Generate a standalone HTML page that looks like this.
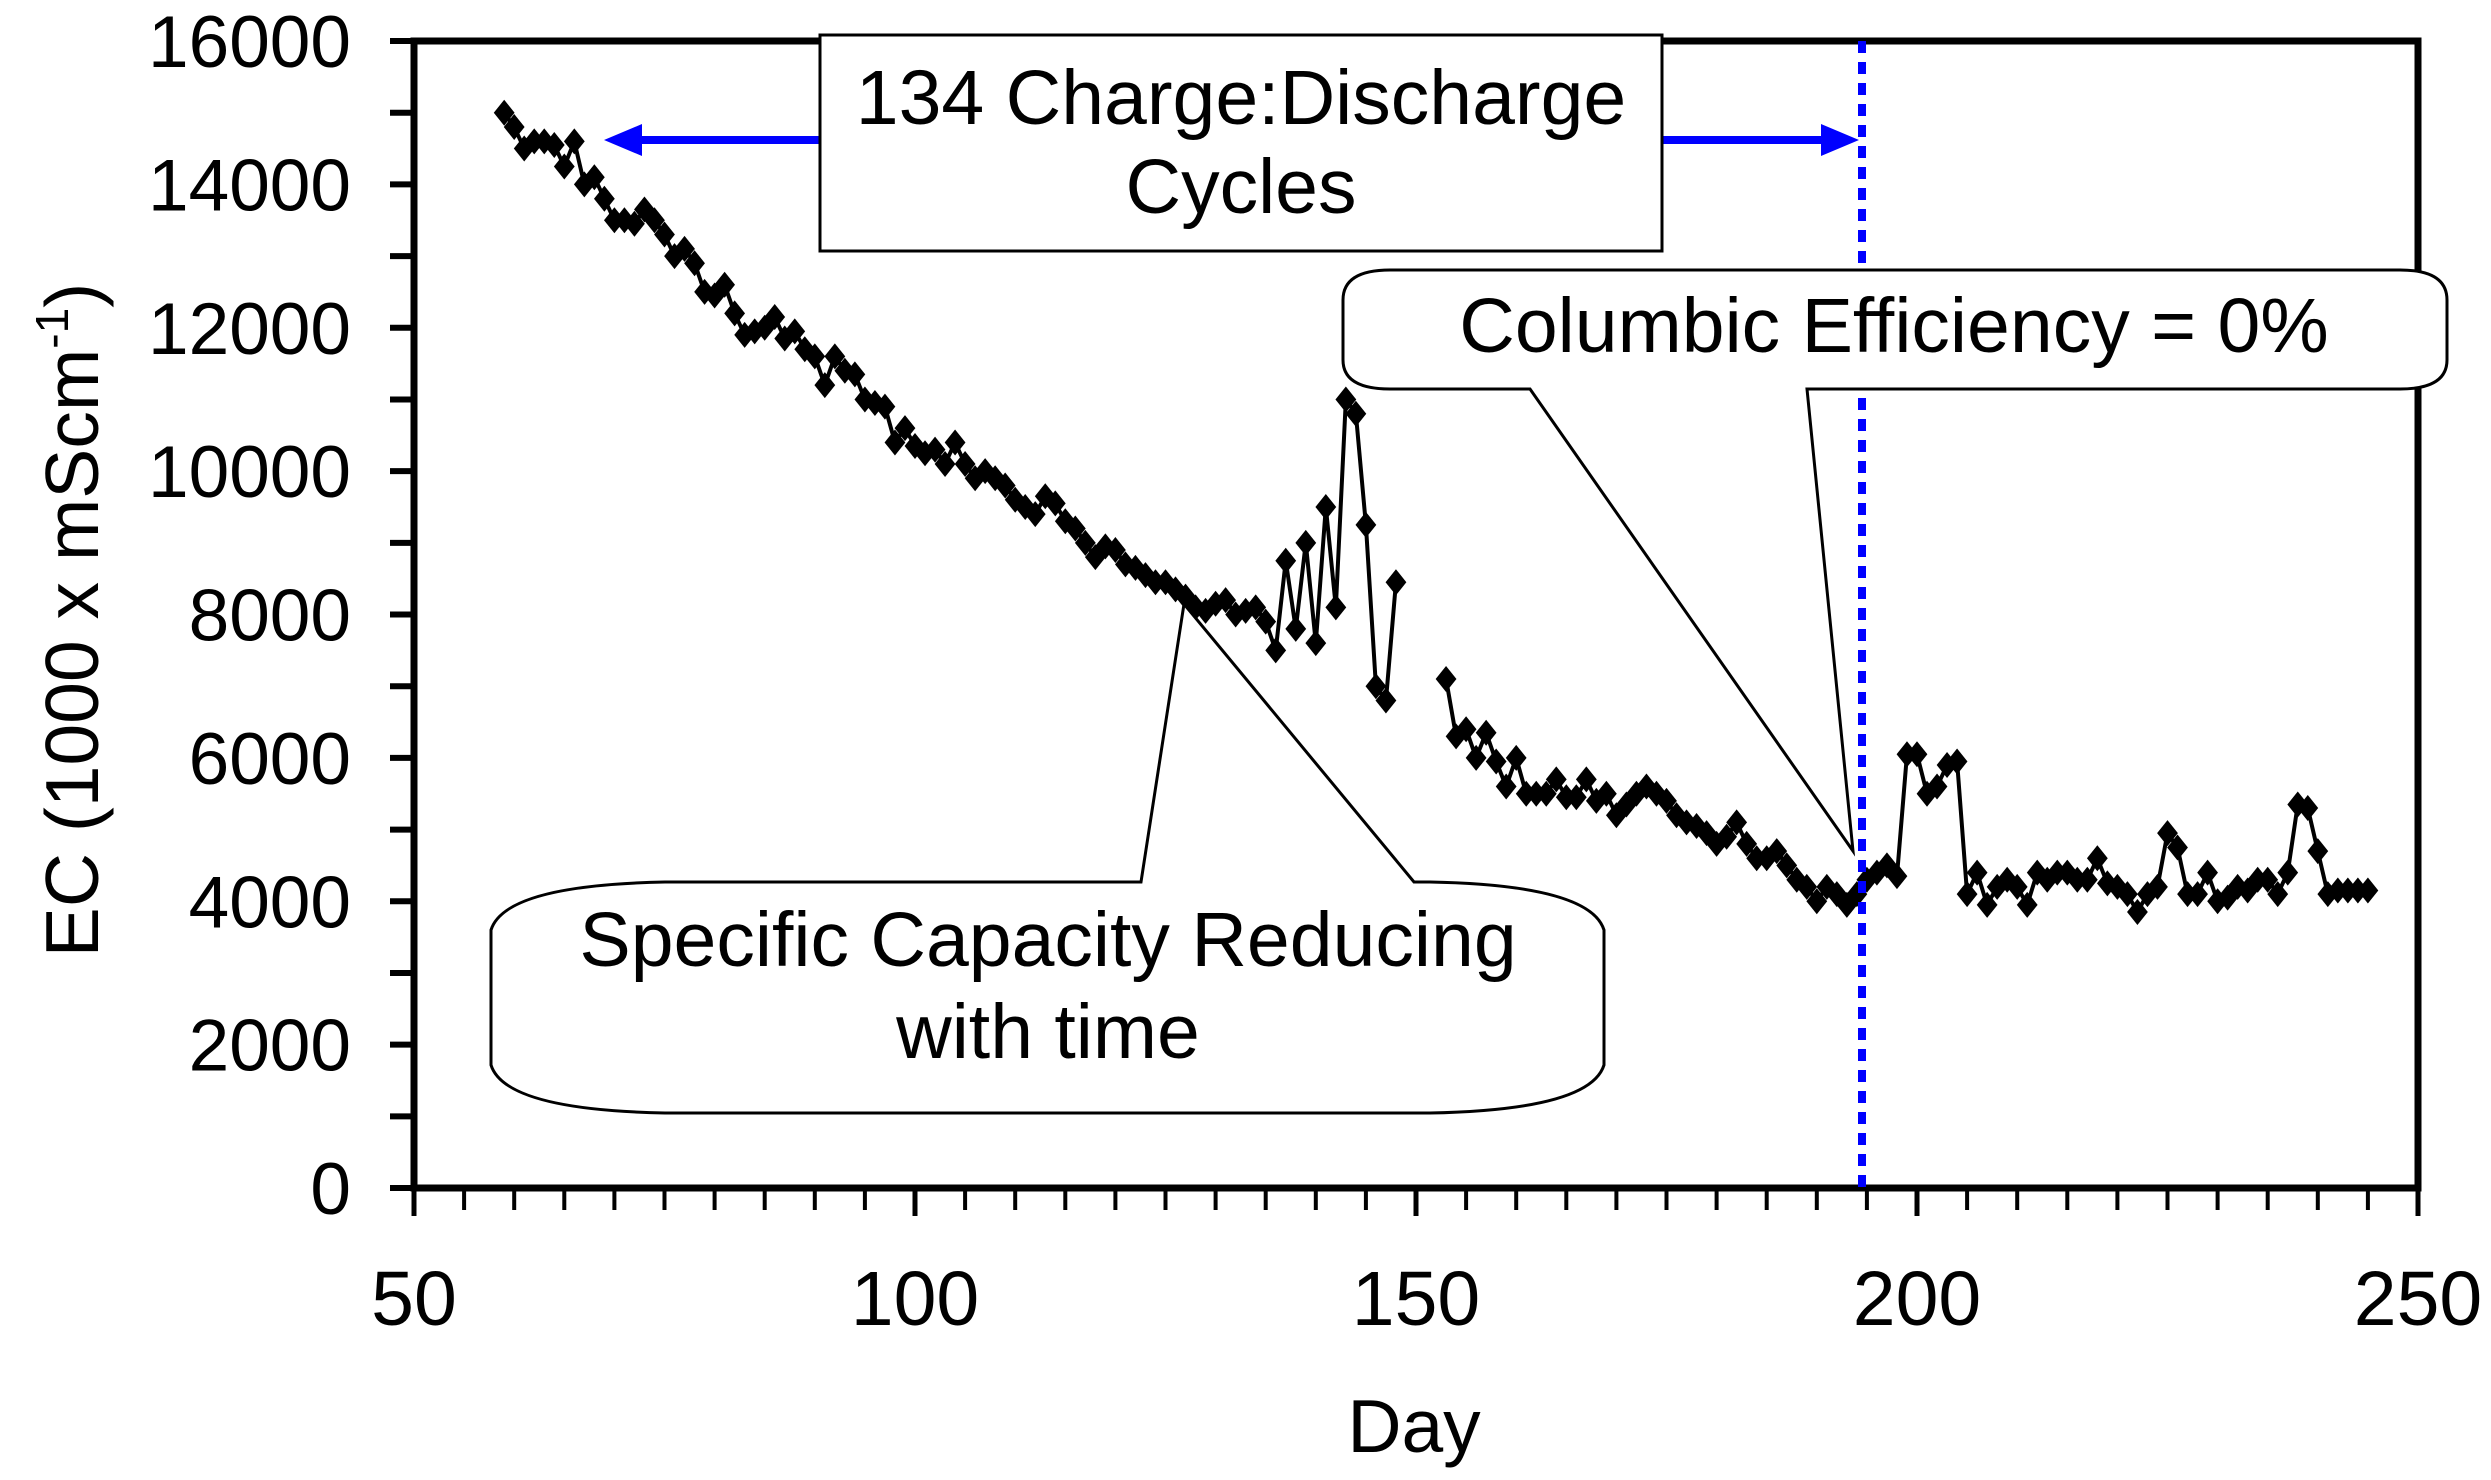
<!DOCTYPE html>
<html><head><meta charset="utf-8"><style>
html,body{margin:0;padding:0;background:#fff;}
svg{display:block;font-family:"Liberation Sans",Arial,sans-serif;}
</style></head><body>
<svg id="chart" width="2491" height="1480" viewBox="0 0 2491 1480" xmlns="http://www.w3.org/2000/svg">
<rect width="2491" height="1480" fill="#fff"/>
<g id="axes"></g>
<g id="series"></g>
<g id="annot">
  <line x1="1862" y1="41" x2="1862" y2="1188" stroke="#0000ff" stroke-width="8" stroke-dasharray="12,9"/>
  <line x1="630" y1="140" x2="1830" y2="140" stroke="#0000ff" stroke-width="8"/>
  <polygon points="604,140 642,124 642,156" fill="#0000ff"/>
  <polygon points="1859,140 1821,124 1821,156" fill="#0000ff"/>
  <rect x="820" y="35" width="842" height="216" fill="#fff" stroke="#000" stroke-width="3"/>
  <text x="1241" y="124" font-size="77" text-anchor="middle">134 Charge:Discharge</text>
  <text x="1241" y="213" font-size="77" text-anchor="middle">Cycles</text>

  <path d="M1530,389 L1853,851 L1807,389 L2400,389 Q2447,389 2447,360 L2447,300 Q2447,270 2400,270 L1390,270 Q1343,270 1343,300 L1343,360 Q1343,389 1390,389 Z" fill="#fff" stroke="#000" stroke-width="3"/>
  <text x="1894" y="352" font-size="77" text-anchor="middle">Columbic Efficiency = 0%</text>

  <path d="M1141,882 L1184,604 L1414,882 L1430,882 Q1590,885 1604,930 L1604,1065 Q1590,1110 1430,1113 L665,1113 Q505,1110 491,1065 L491,930 Q505,885 665,882 Z" fill="#fff" stroke="#000" stroke-width="3"/>
  <text x="1048" y="966" font-size="77" text-anchor="middle">Specific Capacity Reducing</text>
  <text x="1048" y="1058" font-size="77" text-anchor="middle">with time</text>
</g>
<text x="1414" y="1452" font-size="75" text-anchor="middle">Day</text>
<text transform="translate(98,620) rotate(-90)" font-size="75" text-anchor="middle">EC (1000 x mScm<tspan font-size="46" dy="-30">-1</tspan><tspan dy="30">)</tspan></text>
</svg>
<script>
const days = [59,60,61,62,63,64,65,66,67,68,69,70,71,72,73,74,75,76,77,78,79,80,81,82,83,84,85,86,87,88,89,90,91,92,93,94,95,96,97,98,99,100,101,102,103,104,105,106,107,108,109,110,111,112,113,114,115,116,117,118,119,120,121,122,123,124,125,126,127,128,129,130,131,132,133,134,135,136,137,138,139,140,141,142,143,144,145,146,147,148,
null,
153,154,155,156,157,158,159,160,161,162,163,164,165,166,167,168,169,170,171,172,173,174,175,176,177,178,179,180,181,182,183,184,185,186,187,188,189,190,191,192,193,194,195,196,197,198,199,200,201,202,203,204,205,206,207,208,209,210,211,212,213,214,215,216,217,218,219,220,221,222,223,224,225,226,227,228,229,230,231,232,233,234,235,236,237,238,239,240,241,242,243,244,245];
const ecValues = [15000,14800,14500,14600,14600,14550,14250,14600,14000,14100,13800,13500,13500,13450,13650,13500,13300,13000,13100,12900,12500,12450,12600,12200,11900,11950,12000,12150,11850,11950,11700,11600,11200,11600,11400,11350,11000,10950,10900,10400,10600,10350,10250,10300,10100,10400,10100,9900,10000,9900,9800,9600,9500,9400,9650,9550,9300,9200,9000,8800,8950,8900,8700,8650,8550,8450,8450,8350,8250,8100,8050,8150,8200,8000,8050,8100,7900,7500,8750,7800,9000,7600,9500,8100,11000,10800,9250,7000,6800,8450,
null,
7100,6300,6400,6000,6350,5950,5600,6000,5500,5500,5500,5700,5450,5450,5700,5400,5500,5200,5350,5500,5600,5500,5400,5200,5100,5050,4950,4800,4900,5100,4800,4600,4600,4700,4500,4300,4200,4000,4200,4100,3950,4100,4300,4400,4500,4350,6050,6050,5500,5600,5900,5950,4100,4400,3950,4200,4300,4200,3950,4400,4300,4400,4400,4300,4300,4600,4250,4200,4100,3850,4100,4200,4950,4750,4100,4100,4400,4000,4050,4200,4150,4300,4300,4100,4400,5350,5300,4700,4100,4150,4150,4150,4150];
const xTicks = [50,100,150,200,250];
const yTicks = [0,2000,4000,6000,8000,10000,12000,14000,16000];

const NS='http://www.w3.org/2000/svg';
const X0=414,X1=2418,Y0=1188,Y1=41;
function xs(d){return X0+(d-50)*(X1-X0)/200;}
function ys(v){return Y0-v*(Y0-Y1)/16000;}
function mk(tag,attrs,parent){const e=document.createElementNS(NS,tag);for(const k in attrs)e.setAttribute(k,attrs[k]);parent.appendChild(e);return e;}
const axes=document.getElementById('axes');
const fr=mk('rect',{x:X0,y:Y1,width:X1-X0,height:Y0-Y1,fill:'none',stroke:'#000','stroke-width':7},axes);


for(let v=0;v<=16000;v+=1000){
  const t=mk('line',{x1:X0-24,x2:X0,y1:ys(v),y2:ys(v),stroke:'#000','stroke-width':6},axes);
  
  
}
yTicks.forEach(v=>{
  const t=mk('text',{x:351,y:ys(v)+26,'font-size':73,'text-anchor':'end'},axes);
  t.textContent=v;
  
  
});
for(let d=50;d<=250;d+=5){
  const major=(d%50===0);
  const t=mk('line',{x1:xs(d),x2:xs(d),y1:Y0,y2:Y0+(major?28:22),stroke:'#000','stroke-width':major?5:4},axes);
  
  
}
xTicks.forEach(d=>{
  const t=mk('text',{x:xs(d),y:1325,'font-size':77,'text-anchor':'middle'},axes);
  t.textContent=d;
  
  
});
const ser=document.getElementById('series');
let segs=[],cur=[];
days.forEach((d,i)=>{if(d===null){segs.push(cur);cur=[];}else cur.push([xs(d),ys(ecValues[i])]);});
segs.push(cur);
segs.forEach(s=>{
  const p=mk('polyline',{points:s.map(q=>q.join(',')).join(' '),fill:'none',stroke:'#000','stroke-width':4},ser);
  
  
});
days.forEach((d,i)=>{
  if(d===null)return;
  const x=xs(d),y=ys(ecValues[i]),r=13;
  const m=mk('polygon',{points:`${x},${y-r} ${x+r*0.8},${y} ${x},${y+r} ${x-r*0.8},${y}`,fill:'#000'},ser);
  
  
});
</script>
</body></html>
